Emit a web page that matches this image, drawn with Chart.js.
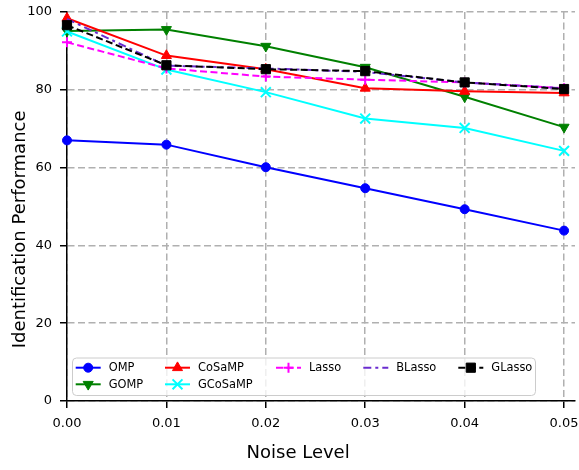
<!DOCTYPE html>
<html><head><meta charset="utf-8">
<script src="https://cdn.jsdelivr.net/npm/chart.js@4"></script>
<style>html,body{margin:0;padding:0;background:#fff}</style>
</head><body>
<canvas id="c" width="579" height="470"></canvas>
<script>
const noiseLevels = [0, 0.01, 0.02, 0.03, 0.04, 0.05];
const xTicks = [0, 0.01, 0.02, 0.03, 0.04, 0.05];
const yTicks = [0, 20, 40, 60, 80, 100];
const seriesNames = ['OMP', 'GOMP', 'CoSaMP', 'GCoSaMP', 'Lasso', 'BLasso', 'GLasso'];
const ompValues     = [67.0, 65.9, 60.1, 54.7, 49.3, 43.8];
const gompValues    = [95.1, 95.5, 91.2, 85.8, 78.2, 70.4];
const cosampValues  = [98.4, 88.8, 85.3, 80.4, 79.6, 79.2];
const gcosampValues = [95.0, 85.2, 79.4, 72.6, 70.2, 64.3];
const lassoValues   = [92.2, 85.5, 83.4, 82.6, 81.9, 80.4];
const blassoValues  = [98.2, 86.2, 85.5, 84.6, 81.9, 80.4];
const glassoValues  = [96.6, 86.3, 85.3, 84.8, 81.9, 80.2];
const xTitle = 'Noise Level';
const yTitle = 'Identification Performance';

const allValues = [ompValues, gompValues, cosampValues, gcosampValues, lassoValues, blassoValues, glassoValues];
const styles = [
  {color:'#0000ff', pointStyle:'circle', radius:4.5, rotation:0, dash:[]},
  {color:'#008000', pointStyle:'triangle', radius:5.8, rotation:180, dash:[]},
  {color:'#ff0000', pointStyle:'triangle', radius:5.8, rotation:0, dash:[]},
  {color:'#00ffff', pointStyle:'crossRot', radius:7, rotation:0, dash:[]},
  {color:'#ff00ff', pointStyle:'cross', radius:5, rotation:0, dash:[7,3.5]},
  {color:'#6a2ccf', pointStyle:false, radius:0, rotation:0, dash:[8,4,3,4]},
  {color:'#000000', pointStyle:'rect', radius:6.5, rotation:0, dash:[7,3.5]}
];

const datasets = seriesNames.map((name, i) => {
  const s = styles[i];
  return {
    label: name,
    data: noiseLevels.map((x, j) => ({x: x, y: allValues[i][j]})),
    borderColor: s.color,
    backgroundColor: s.color,
    borderWidth: 2,
    borderDash: s.dash,
    pointStyle: s.pointStyle || 'circle',
    pointRadius: s.pointStyle ? s.radius : 0,
    pointRotation: s.rotation,
    pointBorderWidth: (s.pointStyle === 'cross' || s.pointStyle === 'crossRot') ? 2 : 1,
    pointBorderColor: s.color,
    pointBackgroundColor: s.color,
    tension: 0,
    fill: false,
    clip: false,
    order: seriesNames.length - 1 - i
  };
});

const FONT = 'DejaVu Sans';

const legendPlugin = {
  id: 'innerLegend',
  afterDraw(chart) {
    const ctx = chart.ctx;
    const box = {x: 72.5, y: 358, w: 463, h: 37.5, r: 4};
    ctx.save();
    ctx.beginPath();
    ctx.moveTo(box.x + box.r, box.y);
    ctx.arcTo(box.x + box.w, box.y, box.x + box.w, box.y + box.h, box.r);
    ctx.arcTo(box.x + box.w, box.y + box.h, box.x, box.y + box.h, box.r);
    ctx.arcTo(box.x, box.y + box.h, box.x, box.y, box.r);
    ctx.arcTo(box.x, box.y, box.x + box.w, box.y, box.r);
    ctx.closePath();
    ctx.fillStyle = 'rgba(255,255,255,0.8)';
    ctx.fill();
    ctx.strokeStyle = '#cccccc';
    ctx.lineWidth = 1;
    ctx.stroke();
    const colX = [75.7, 165, 276, 363.3, 458.3];
    const rowY = [367.7, 384.3];
    const colItems = [[0,1],[2,3],[4],[5],[6]];
    ctx.font = '11.4px "' + FONT + '"';
    ctx.textBaseline = 'middle';
    ctx.textAlign = 'left';
    colItems.forEach((items, c) => {
      items.forEach((idx, r) => {
        const ds = chart.data.datasets[idx];
        const s = styles[idx];
        const hx = colX[c], hy = rowY[r];
        ctx.save();
        ctx.strokeStyle = s.color;
        ctx.lineWidth = 2;
        ctx.setLineDash(s.dash);
        ctx.beginPath();
        ctx.moveTo(hx, hy);
        ctx.lineTo(hx + 25, hy);
        ctx.stroke();
        ctx.restore();
        if (s.pointStyle) {
          ctx.save();
          ctx.fillStyle = s.color;
          ctx.strokeStyle = s.color;
          ctx.lineWidth = ds.pointBorderWidth;
          ctx.setLineDash([]);
          Chart.helpers.drawPoint(ctx, {pointStyle: s.pointStyle, rotation: s.rotation, radius: s.radius, borderWidth: ds.pointBorderWidth}, hx + 12.5, hy);
          ctx.restore();
        }
        ctx.fillStyle = '#000';
        ctx.fillText(ds.label, hx + 33, hy + 0.5);
      });
    });
    ctx.restore();
  }
};

const zeroPad = s => { s.paddingLeft = 0; s.paddingRight = 0; s.paddingTop = 0; s.paddingBottom = 0; };
// trailing spaces shift the centred titles toward their start, as in the reference
const pad = n => ' '.repeat(n);

new Chart(document.getElementById('c'), {
  type: 'line',
  data: {datasets},
  plugins: [legendPlugin],
  options: {
    responsive: false,
    animation: false,
    devicePixelRatio: 1,
    layout: {autoPadding: false, padding: {top: 12, right: 4, left: 0, bottom: 0}},
    plugins: {legend: {display: false}, tooltip: {enabled: false}},
    scales: {
      x: {
        type: 'linear',
        min: 0,
        max: 0.0511,
        afterBuildTicks: s => { s.ticks = xTicks.map(v => ({value: v})); },
        afterFit: s => { s.height = 69; zeroPad(s); },
        ticks: {
          callback: v => Number(v).toFixed(2),
          font: {family: FONT, size: 13},
          color: '#000',
          padding: 8,
          maxRotation: 0
        },
        grid: {color: '#b0b0b0', lineWidth: 1.5, tickColor: '#000', tickLength: 7, tickWidth: 1.5},
        border: {display: true, color: '#000', width: 1.5, dash: [7, 3.5]},
        title: {display: true, text: xTitle + pad(8), font: {family: FONT, size: 18}, color: '#000', padding: {top: 4, bottom: 6}}
      },
      y: {
        type: 'linear',
        min: 0,
        max: 100,
        afterBuildTicks: s => { s.ticks = yTicks.map(v => ({value: v})); },
        afterFit: s => { s.width = 67; zeroPad(s); },
        ticks: {
          font: {family: FONT, size: 13},
          color: '#000',
          padding: 8
        },
        grid: {color: '#b0b0b0', lineWidth: 1.5, tickColor: '#000', tickLength: 7, tickWidth: 1.5},
        border: {display: true, color: '#000', width: 1.5, dash: [7, 3.5]},
        title: {display: true, text: yTitle + pad(8), font: {family: FONT, size: 18}, color: '#000', padding: {top: 10, bottom: 4}}
      }
    }
  }
});
</script>
</body></html>
